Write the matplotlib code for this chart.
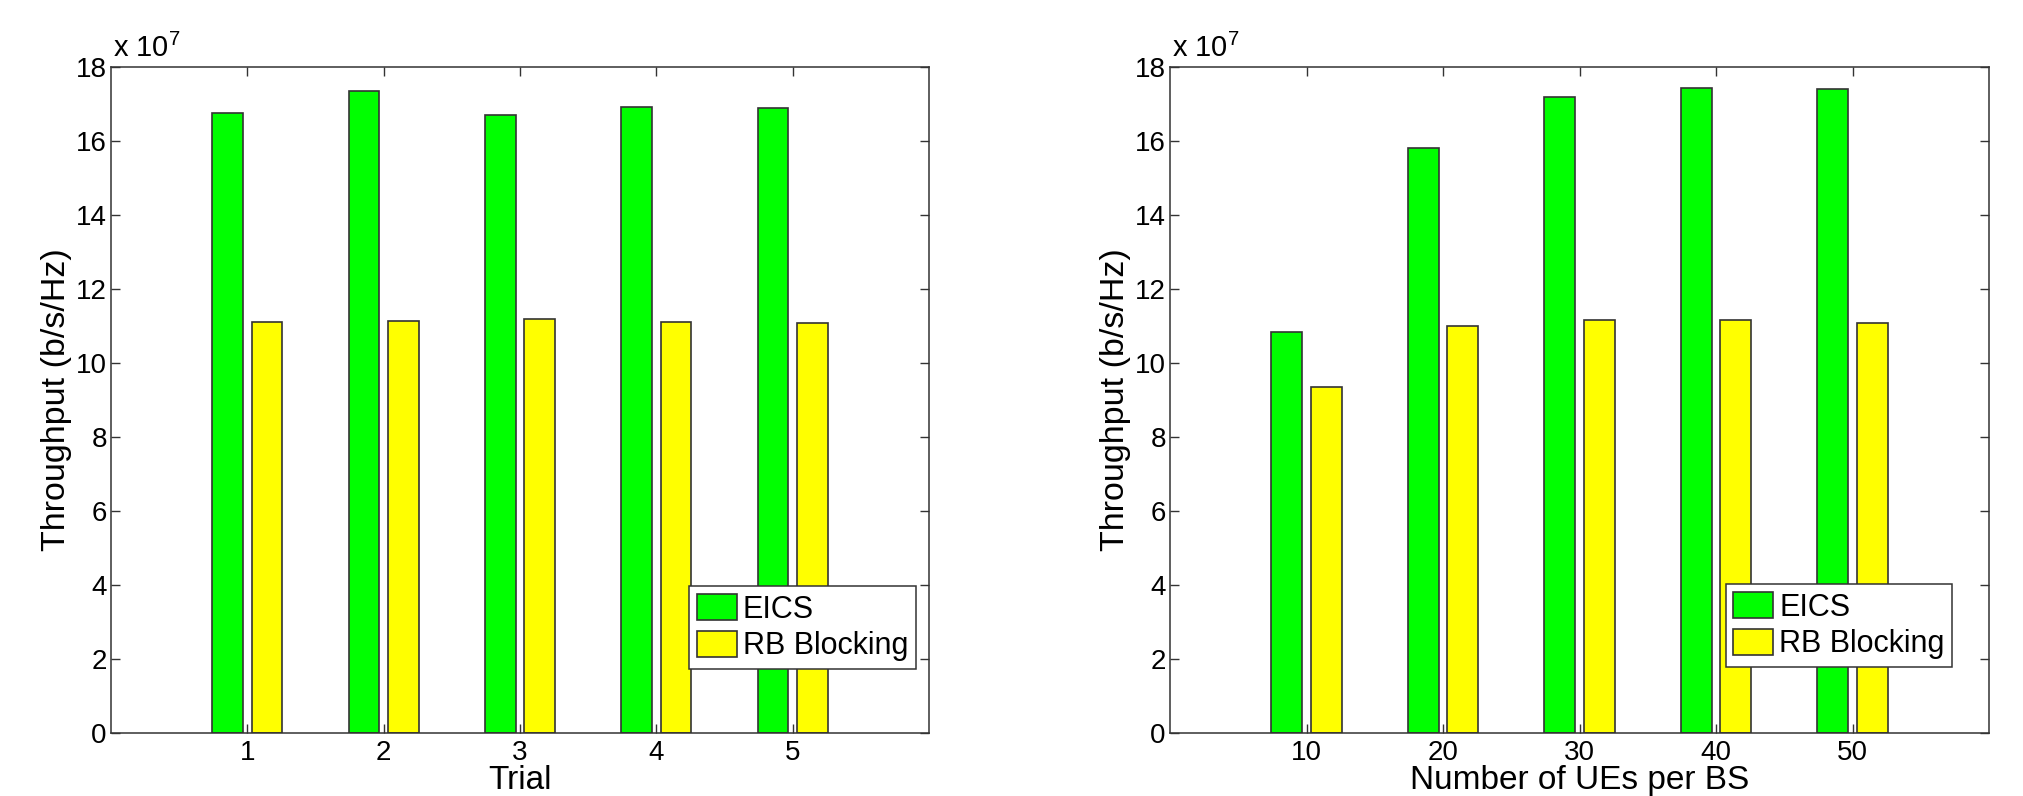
import matplotlib
matplotlib.use("Agg")
import matplotlib.pyplot as plt
import numpy as np

# ---- data (values in units of 1e7 b/s/Hz) ----
trials = [1, 2, 3, 4, 5]
eics_trial = [16.75, 17.36, 16.69, 16.93, 16.89]
rb_trial = [11.11, 11.14, 11.18, 11.11, 11.07]

ues = [10, 20, 30, 40, 50]
eics_ue = [10.83, 15.81, 17.19, 17.44, 17.41]
rb_ue = [9.35, 11.01, 11.15, 11.15, 11.08]

series_labels = ["EICS", "RB Blocking"]
yticks = [0, 2, 4, 6, 8, 10, 12, 14, 16, 18]

plt.rcParams['font.family'] = ['Liberation Sans', 'DejaVu Sans']
plt.rcParams['mathtext.fontset'] = 'custom'
plt.rcParams['mathtext.rm'] = 'Liberation Sans'
plt.rcParams['mathtext.it'] = 'Liberation Sans:italic'

NARROW = ['Liberation Sans Narrow', 'Liberation Sans']
GREEN = '#00ff00'
YELLOW = '#ffff00'
EDGE = '#333333'

fig = plt.figure(figsize=(20.23, 7.96), dpi=100)
ax1 = fig.add_axes([111 / 2023, 63 / 796, 818 / 2023, 666 / 796])
ax2 = fig.add_axes([1170 / 2023, 63 / 796, 819 / 2023, 666 / 796])


def draw(ax, x, a, b, xmax, xlabel, leg_anchor):
    x = np.asarray(x, dtype=float)
    unit = xmax / 6.0
    off = 0.145 * unit
    w = 0.225 * unit
    ax.bar(x - off, a, width=w, color=GREEN, edgecolor=EDGE, linewidth=1.2,
           label=series_labels[0], zorder=2)
    ax.bar(x + off, b, width=w, color=YELLOW, edgecolor=EDGE, linewidth=1.2,
           label=series_labels[1], zorder=2)
    ax.set_xlim(0, xmax)
    ax.set_ylim(0, 18)
    ax.set_xticks(x)
    ax.set_xticklabels([str(int(v)) for v in x], fontfamily=NARROW, fontsize=20)
    ax.set_yticks(yticks)
    ax.set_yticklabels([str(v) for v in yticks], fontsize=20)
    ax.tick_params(direction='in', length=6.5, width=1.0, color=EDGE,
                   top=True, right=True, pad=3)
    ax.tick_params(axis='x', pad=5)
    for s in ax.spines.values():
        s.set_color(EDGE)
        s.set_linewidth(1.1)
    ax.set_xlabel(xlabel, fontfamily=NARROW, fontsize=24, labelpad=-1)
    ax.set_ylabel('Throughput (b/s/Hz)', fontsize=24.5, labelpad=3)
    ax.text(0.002, 1.006, r'x 10$^{7}$', transform=ax.transAxes,
            ha='left', va='bottom', fontsize=21)
    leg = ax.legend(loc='lower right', bbox_to_anchor=leg_anchor,
                    borderaxespad=0, fontsize=22, fancybox=False,
                    edgecolor=EDGE, framealpha=1, handlelength=1.3,
                    handleheight=0.95, handletextpad=0.2, labelspacing=0.2,
                    borderpad=0.25)
    leg.get_frame().set_linewidth(1.1)


draw(ax1, trials, eics_trial, rb_trial, 6, 'Trial', (0.984, 0.096))
draw(ax2, ues, eics_ue, rb_ue, 60, 'Number of UEs per BS', (0.955, 0.099))

fig.savefig('out.png', dpi=100, facecolor='white')
